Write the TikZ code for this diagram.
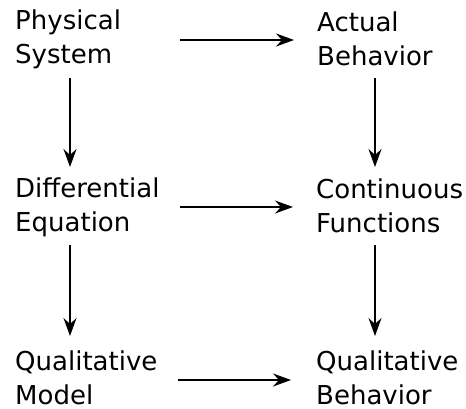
\documentclass[tikz,border=0pt]{standalone}
\usepackage{fontspec}
\setmainfont{DejaVu Sans}
\usetikzlibrary{arrows.meta}
\begin{document}
\begin{tikzpicture}[x=1pt,y=-1pt,
  lbl/.style={anchor=base west,inner sep=0pt,align=left,font=\fontsize{26}{34}\selectfont},
  arr/.style={-{Stealth[length=18pt,width=13pt,inset=6pt]},line width=1.3pt}]
\useasboundingbox (0,0) rectangle (466,408);
\node[lbl] (ps) at (15,63) {Physical\\System};
\node[lbl] (ab) at (317,65) {Actual\\Behavior};
\node[lbl] (de) at (15,231) {Differential\\Equation};
\node[lbl] (cf) at (316,232) {Continuous\\Functions};
\node[lbl] (qm) at (15,404) {Qualitative\\Model};
\node[lbl] (qb) at (316,404) {Qualitative\\Behavior};
% horizontal
\draw[arr] ([xshift=165pt,yshift=23pt]ps.base west) -- ([xshift=-23pt,yshift=25pt]ab.base west);
\draw[arr] ([xshift=165pt,yshift=24pt]de.base west) -- ([xshift=-23pt,yshift=25pt]cf.base west);
\draw[arr] ([xshift=163pt,yshift=24pt]qm.base west) -- ([xshift=-25pt,yshift=24pt]qb.base west);
% vertical
\draw[arr] ([xshift=55pt,yshift=-15pt]ps.base west) -- ([xshift=55pt,yshift=64pt]de.base west);
\draw[arr] ([xshift=55pt,yshift=-14pt]de.base west) -- ([xshift=55pt,yshift=68pt]qm.base west);
\draw[arr] ([xshift=58pt,yshift=-13pt]ab.base west) -- ([xshift=59pt,yshift=65pt]cf.base west);
\draw[arr] ([xshift=59pt,yshift=-13pt]cf.base west) -- ([xshift=59pt,yshift=68pt]qb.base west);
\end{tikzpicture}
\end{document}
